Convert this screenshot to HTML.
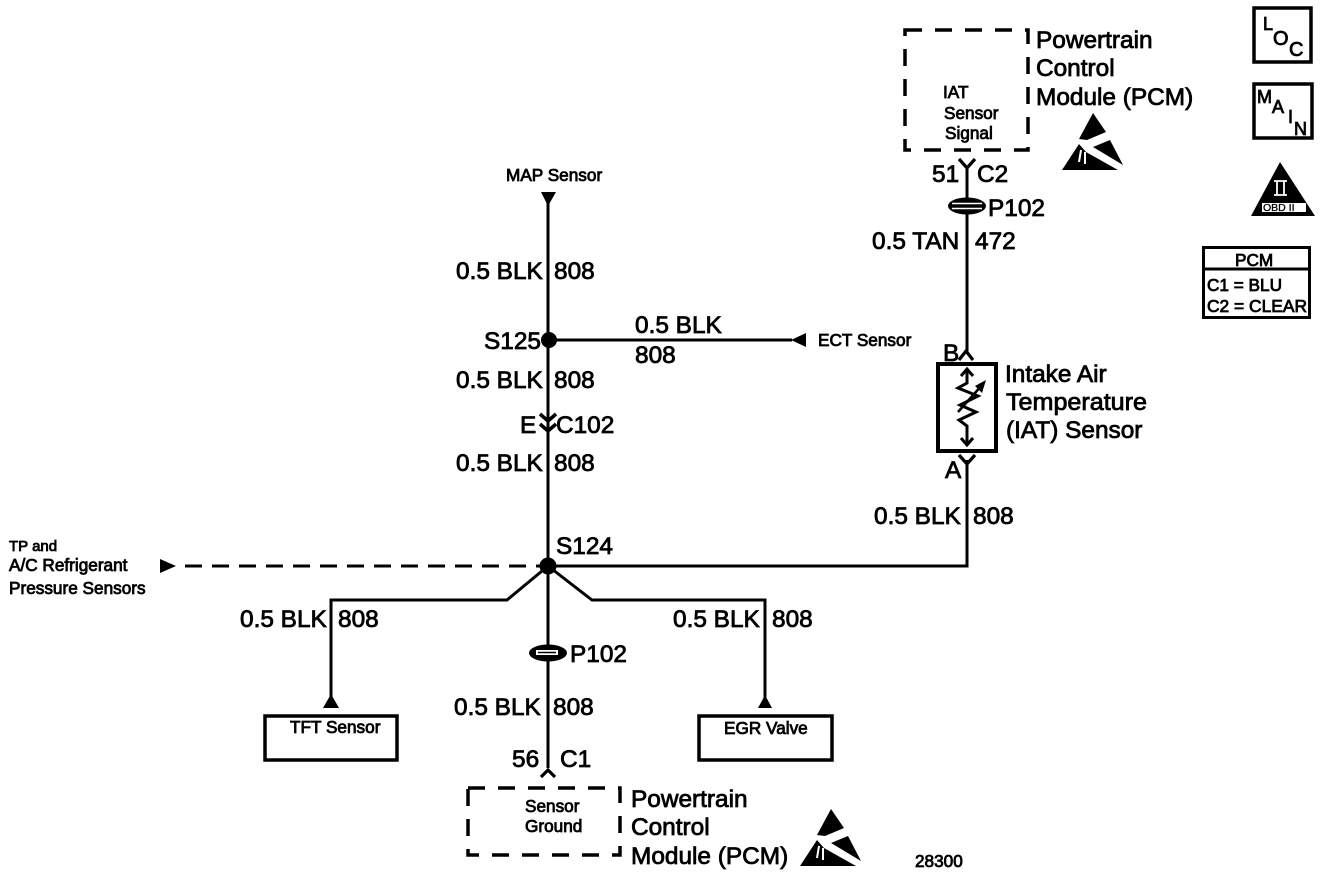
<!DOCTYPE html>
<html><head><meta charset="utf-8"><style>
html,body{margin:0;padding:0;background:#fff}
svg{display:block}
text{font-family:"Liberation Sans",sans-serif;fill:#000;stroke:#000;stroke-width:.8px}
.l{font-size:24.4px}
.s{font-size:17.2px}
.w{fill:none;stroke:#000;stroke-width:3}
.t{fill:none;stroke:#000;stroke-width:3.5}
.d{fill:none;stroke:#000;stroke-width:3.5;stroke-dasharray:17 13}
</style></head><body>
<svg width="1328" height="876" viewBox="0 0 1328 876" xmlns="http://www.w3.org/2000/svg">
<defs>
<g id="esd">
<polygon points="1093,113 1106,132 1087,140 1079,139" fill="#000"/>
<polygon points="1079,144 1062,170 1118,170 1086,152" fill="#000"/>
<polygon points="1110,140 1123,165 1093,147" fill="#000"/>
<path d="M1081 150L1079 162M1085 152L1085 164" stroke="#fff" stroke-width="2"/>
</g>
</defs>

<!-- main wiring -->
<path class="w" d="M548 192V768"/>
<path class="w" d="M548 340H792"/>
<path class="w" d="M548 566H967V460"/>
<path class="w" d="M967 168V352"/>
<path class="w" d="M185 566H548" stroke-dasharray="17 10"/>
<path class="w" d="M548 566L507 600H331V697"/>
<path class="w" d="M548 566L592 600H765V698"/>
<circle cx="549" cy="340" r="8"/>
<circle cx="548" cy="566" r="8.500"/>

<!-- arrowheads -->
<polygon points="541,192 556,192 548,206"/>
<polygon points="806,333 806,347 791,340"/>
<polygon points="160,559 160,573 176,566"/>
<polygon points="331,694 339,708 323,708"/>
<polygon points="765,695 772,708 758,708"/>

<!-- C102 -->
<path d="M540 414L548 421L556 414M540 424L548 431L556 424" fill="none" stroke="#000" stroke-width="3.500"/>
<!-- A/B/51/56 forks -->
<path d="M959 159L967 168L975 159" fill="none" stroke="#000" stroke-width="3.200"/>
<path d="M959 360L966 351L973 360" fill="none" stroke="#000" stroke-width="3.200"/>
<path d="M959 455L967 464L975 455" fill="none" stroke="#000" stroke-width="3.200"/>
<path d="M541 777L548 770L555 777" fill="none" stroke="#000" stroke-width="3.200"/>

<!-- P102 -->
<g>
<ellipse cx="967" cy="206" rx="19" ry="8.500" fill="#000"/>
<path d="M952 203.500H982M952 208.500H982" stroke="#fff" stroke-width="1.500"/>
<ellipse cx="548" cy="653" rx="19" ry="8.500" fill="#000"/>
<rect x="536" y="650" width="22" height="5" fill="#fff"/>
<path d="M538 652.500H556" stroke="#000" stroke-width="1.500"/>
</g>

<!-- boxes -->
<path class="d" d="M905 30H1028V150H905Z"/>
<path class="d" d="M468 788H620V855H468Z"/>
<rect class="t" x="265" y="716" width="132" height="44"/>
<rect class="t" x="699" y="716" width="133" height="44"/>
<rect x="938" y="364" width="58" height="87" fill="none" stroke="#000" stroke-width="4"/>

<!-- sensor symbol -->
<path d="M967 369V383L958 388L978 396L960 405L976 412L959 420L967 426V445" fill="none" stroke="#000" stroke-width="3"/>
<path d="M961 376L967 369L973 376M961 438L967 445L973 438" fill="none" stroke="#000" stroke-width="3"/>
<path d="M958 412L983 384" stroke="#000" stroke-width="2.600"/>
<polygon points="986,380 982,393 975,386"/>

<!-- right icons -->
<rect class="t" x="1254" y="8" width="57" height="54"/>
<rect class="t" x="1254" y="84" width="58" height="54"/>
<polygon points="1280,162 1315,216 1251,216"/>
<rect x="1262" y="203" width="44" height="9" fill="#fff"/>
<path d="M1274 181H1287M1274 195H1287M1277 181V195M1284 181V195" stroke="#fff" stroke-width="1.800"/>
<rect x="1203.500" y="247.500" width="106" height="70" fill="none" stroke="#000" stroke-width="3"/>
<path d="M1203 269H1310" stroke="#000" stroke-width="3"/>
<use href="#esd"/>
<use href="#esd" transform="translate(-262 696)"/>

<!-- large labels -->
<g class="l">
<text x="1036" y="48">Powertrain</text>
<text x="1036" y="76">Control</text>
<text x="1036" y="105">Module (PCM)</text>
<text x="932" y="182">51</text>
<text x="977" y="182">C2</text>
<text x="988" y="216">P102</text>
<text x="872" y="249">0.5 TAN</text>
<text x="975" y="249">472</text>
<text x="456" y="279">0.5 BLK</text>
<text x="554" y="279">808</text>
<text x="484" y="349">S125</text>
<text x="635" y="333">0.5 BLK</text>
<text x="635" y="363">808</text>
<text x="456" y="388">0.5 BLK</text>
<text x="554" y="388">808</text>
<text x="520" y="433">E</text>
<text x="556" y="433">C102</text>
<text x="456" y="471">0.5 BLK</text>
<text x="554" y="471">808</text>
<text x="943" y="361">B</text>
<text x="945" y="478">A</text>
<text x="1005" y="382">Intake Air</text>
<text x="1006" y="410" textLength="141" lengthAdjust="spacingAndGlyphs">Temperature</text>
<text x="1006" y="438">(IAT) Sensor</text>
<text x="874" y="524">0.5 BLK</text>
<text x="973" y="524">808</text>
<text x="556" y="554">S124</text>
<text x="240" y="627">0.5 BLK</text>
<text x="338" y="627">808</text>
<text x="673" y="627">0.5 BLK</text>
<text x="772" y="627">808</text>
<text x="570" y="662">P102</text>
<text x="454" y="715">0.5 BLK</text>
<text x="553" y="715">808</text>
<text x="512" y="767">56</text>
<text x="560" y="767">C1</text>
<text x="631" y="807">Powertrain</text>
<text x="631" y="835">Control</text>
<text x="631" y="864">Module (PCM)</text>
</g>

<!-- small labels -->
<g class="s">
<text x="506" y="181">MAP Sensor</text>
<text x="818" y="346">ECT Sensor</text>
<text x="9" y="551" font-size="15">TP and</text>
<text x="9" y="571">A/C Refrigerant</text>
<text x="9" y="594">Pressure Sensors</text>
<text x="290" y="733">TFT Sensor</text>
<text x="724" y="734">EGR Valve</text>
<text x="525" y="812">Sensor</text>
<text x="525" y="832">Ground</text>
<text x="943" y="98">IAT</text>
<text x="944" y="119">Sensor</text>
<text x="945" y="139">Signal</text>
<text x="915" y="867">28300</text>
<text x="1235" y="266">PCM</text>
<text x="1207" y="291">C1 = BLU</text>
<text x="1207" y="312" textLength="100" lengthAdjust="spacingAndGlyphs">C2 = CLEAR</text>
<text x="1263" y="30" font-size="18">L</text>
<text x="1273" y="45" font-size="20">O</text>
<text x="1289" y="56" font-size="20">C</text>
<text x="1257" y="103" font-size="18">M</text>
<text x="1272" y="113" font-size="18">A</text>
<text x="1288" y="123" font-size="18">I</text>
<text x="1294" y="135" font-size="18">N</text>
</g>
<text x="1263" y="211" font-size="10.500" style="stroke-width:.3px">OBD II</text>
</svg>
</body></html>
